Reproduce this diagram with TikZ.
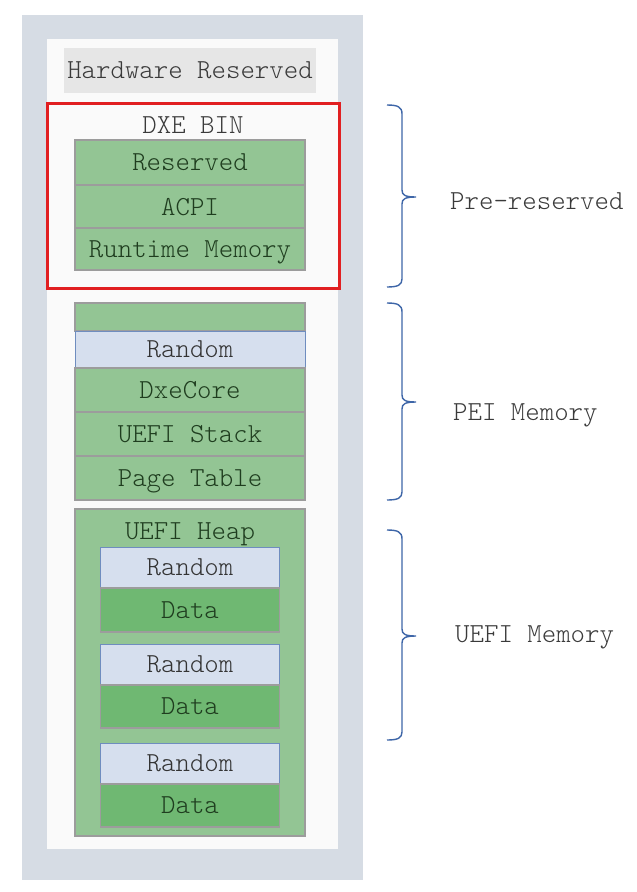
\documentclass[tikz,border=0pt]{standalone}
\usepackage{fontspec}
\setmonofont{Latin Modern Mono Light}
\definecolor{outerbg}{HTML}{D6DCE4}
\definecolor{innerbg}{HTML}{FAFAFA}
\definecolor{hwbg}{HTML}{E6E6E6}
\definecolor{redc}{HTML}{E11F21}
\definecolor{greenbg}{HTML}{93C594}
\definecolor{darkgreen}{HTML}{6FB872}
\definecolor{lightblue}{HTML}{D6DFEE}
\definecolor{blueborder}{HTML}{6F8DBF}
\definecolor{grayborder}{HTML}{9C9C9C}
\definecolor{bracec}{HTML}{3E66A8}
\definecolor{greentext}{HTML}{1F3D1F}
\definecolor{graytext}{HTML}{3A3A3A}
\tikzset{
  mytxt/.style={font=\ttfamily\fontsize{27.5}{30}\selectfont, text height=16.5pt, text depth=0pt, inner sep=0pt},
  mybox/.style={mytxt, rectangle, minimum width=#1, outer sep=0pt},
  greenrow/.style={mybox=230, fill=greenbg, draw=grayborder, line width=1.5pt, text=greentext},
  bluerow/.style={mybox=230, fill=lightblue, draw=blueborder, line width=1pt, text=black!80},
  innerrand/.style={mybox=179, fill=lightblue, draw=blueborder, line width=1pt, text=black!80},
  innerdata/.style={mybox=179, fill=darkgreen, draw=grayborder, line width=1.5pt, text=greentext},
  sidelbl/.style={mytxt, text=graytext, anchor=west},
  bracestyle/.style={draw=bracec, line width=1.4pt}
}
\begin{document}
\begin{tikzpicture}[x=1pt, y=-1pt]
\useasboundingbox (0,0) rectangle (637,892);
% backgrounds
\node[fill=outerbg, minimum width=341, minimum height=865, inner sep=0, outer sep=0] (outer) at (192.5,447.5) {};
\node[fill=innerbg, minimum width=291, minimum height=810, inner sep=0, outer sep=0] (inner) at (192.5,444) {};
% hardware reserved
\node[mybox=252, minimum height=45, fill=hwbg, text=graytext] (hw) at (190,70.5) {Hardware Reserved};
% DXE BIN
\node[draw=redc, line width=3pt, minimum width=292, minimum height=185, inner sep=0, outer sep=0] (dxe) at (193,195.5) {};
\node[mytxt, text=graytext] (dxelbl) at (193,125) {DXE BIN};
\node[greenrow, minimum height=45] (reserved) at (190,162.5) {Reserved};
\node[greenrow, minimum height=43] (acpi) at (190,207) {ACPI};
\node[greenrow, minimum height=42] (runtime) at (190,249) {Runtime Memory};
% PEI
\node[greenrow, minimum height=28] (peitop) at (190,317) {};
\node[bluerow, minimum height=37] (peirand) at (190,349.5) {Random};
\node[greenrow, minimum height=44] (dxecore) at (190,390) {DxeCore};
\node[greenrow, minimum height=44] (stack) at (190,434) {UEFI Stack};
\node[greenrow, minimum height=44] (page) at (190,478) {Page Table};
% UEFI heap
\node[greenrow, minimum height=327] (heap) at (190,672.5) {};
\node[mytxt, text=greentext] (heaplbl) at (190,531) {UEFI Heap};
\node[innerrand, minimum height=41] (r1) at (190,567.5) {Random};
\node[innerdata, minimum height=44] (d1) at (190,610) {Data};
\node[innerrand, minimum height=41] (r2) at (190,664.5) {Random};
\node[innerdata, minimum height=43] (d2) at (190,706.5) {Data};
\node[innerrand, minimum height=41] (r3) at (190,763.5) {Random};
\node[innerdata, minimum height=43] (d3) at (190,805.5) {Data};
% braces
\draw[bracestyle] (387,105) .. controls (398,105) and (402,107) .. (402,114) -- (402,190) .. controls (402,195) and (405,197) .. (416,197) .. controls (405,197) and (402,199) .. (402,204) -- (402,279) .. controls (402,285) and (398,287) .. (387,287);
\draw[bracestyle] (387,303) .. controls (398,303) and (402,305) .. (402,312) -- (402,395) .. controls (402,400) and (405,402) .. (416,402) .. controls (405,402) and (402,404) .. (402,409) -- (402,492) .. controls (402,498) and (398,500) .. (387,500);
\draw[bracestyle] (387,530) .. controls (398,530) and (402,532) .. (402,539) -- (402,629) .. controls (402,634) and (405,636) .. (416,636) .. controls (405,636) and (402,638) .. (402,643) -- (402,732) .. controls (402,738) and (398,740) .. (387,740);
\node[sidelbl] (prelbl) at (450,201) {Pre-reserved};
\node[sidelbl] (peilbl) at (453,412) {PEI Memory};
\node[sidelbl] (uefilbl) at (455,634) {UEFI Memory};
\end{tikzpicture}
\end{document}
